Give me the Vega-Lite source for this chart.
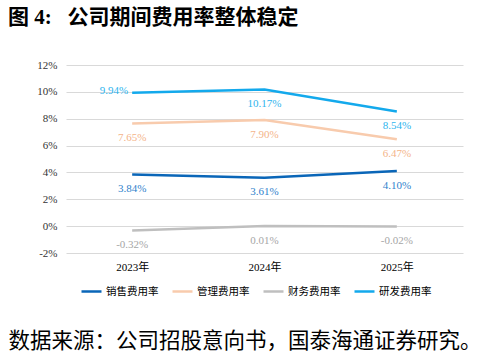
{
  "$schema": "https://vega.github.io/schema/vega-lite/v6.json",
  "width": 397,
  "height": 188,
  "autosize": {"type": "none"},
  "padding": {"left": 66, "top": 65, "right": 30, "bottom": 101},
  "background": "white",
  "view": {"stroke": null},
  "title": {
    "text": "图 4:\u00a0\u00a0\u00a0公司期间费用率整体稳定",
    "anchor": "start",
    "frame": "group",
    "dx": -58,
    "offset": 31,
    "fontSize": 21,
    "font": "Liberation Serif, Noto Sans CJK SC",
    "fontWeight": "bold",
    "color": "#000000"
  },
  "data": {
    "values": [
      {"year": "2023年", "series": "销售费用率", "value": 0.0384},
      {"year": "2024年", "series": "销售费用率", "value": 0.0361},
      {"year": "2025年", "series": "销售费用率", "value": 0.0410},
      {"year": "2023年", "series": "管理费用率", "value": 0.0765},
      {"year": "2024年", "series": "管理费用率", "value": 0.0790},
      {"year": "2025年", "series": "管理费用率", "value": 0.0647},
      {"year": "2023年", "series": "财务费用率", "value": -0.0032},
      {"year": "2024年", "series": "财务费用率", "value": 0.0001},
      {"year": "2025年", "series": "财务费用率", "value": -0.0002},
      {"year": "2023年", "series": "研发费用率", "value": 0.0994},
      {"year": "2024年", "series": "研发费用率", "value": 0.1017},
      {"year": "2025年", "series": "研发费用率", "value": 0.0854}
    ]
  },
  "transform": [
    {"calculate": "replace(format(datum.value, '.2%'), '\u2212', '-')", "as": "label"}
  ],
  "encoding": {
    "x": {
      "field": "year",
      "type": "nominal",
      "sort": null,
      "axis": {
        "labelAngle": 0,
        "domain": false,
        "ticks": false,
        "labelPadding": 8,
        "labelFont": "Liberation Serif, Noto Sans CJK SC",
        "labelFontSize": 11,
        "labelColor": "#000000",
        "title": "数据来源：公司招股意向书，国泰海通证券研究。",
        "titleX": -58,
        "titleY": 88,
        "titleAlign": "left",
        "titleAnchor": "start",
        "titleBaseline": "middle",
        "titleFont": "Noto Sans CJK SC",
        "titleFontSize": 21.5,
        "titleFontWeight": "normal",
        "titleColor": "#000000"
      }
    },
    "y": {
      "field": "value",
      "type": "quantitative",
      "scale": {"domain": [-0.02, 0.12], "nice": false, "zero": false},
      "axis": {
        "values": [-0.02, 0, 0.02, 0.04, 0.06, 0.08, 0.1, 0.12],
        "format": ".0%",
        "labelExpr": "replace(datum.label, '\u2212', '-')",
        "domain": false,
        "ticks": false,
        "gridColor": "#d9d9d9",
        "gridWidth": 1,
        "labelPadding": 9,
        "labelFont": "Liberation Serif",
        "labelFontSize": 11,
        "labelColor": "#333333",
        "title": null
      }
    }
  },
  "layer": [
    {
      "mark": {"type": "line", "strokeWidth": 2.5},
      "encoding": {
        "color": {
          "field": "series",
          "type": "nominal",
          "scale": {
            "domain": ["销售费用率", "管理费用率", "财务费用率", "研发费用率"],
            "range": ["#0a66b8", "#f8cbad", "#bfbfbf", "#13a9ec"]
          },
          "legend": {
            "orient": "none",
            "legendX": 14,
            "legendY": 215,
            "direction": "horizontal",
            "title": null,
            "symbolType": "stroke",
            "symbolSize": 400,
            "symbolStrokeWidth": 2.5,
            "labelFont": "Noto Sans CJK SC",
            "labelFontSize": 10.5,
            "labelColor": "#000000",
            "labelOffset": 3,
            "columnPadding": 8
          }
        }
      }
    },
    {
      "transform": [{"filter": "datum.series == '研发费用率' && datum.year == '2023年'"}],
      "mark": {"type": "text", "align": "right", "baseline": "middle", "dx": -4, "dy": -2, "font": "Liberation Serif", "fontSize": 11},
      "encoding": {
        "text": {"field": "label", "type": "nominal"},
        "color": {
          "field": "series",
          "type": "nominal",
          "scale": {
            "domain": ["销售费用率", "管理费用率", "财务费用率", "研发费用率"],
            "range": ["#2f82cc", "#f4b489", "#a6a6a6", "#2db4ee"]
          },
          "legend": null
        }
      }
    },
    {
      "transform": [{"filter": "!(datum.series == '研发费用率' && datum.year == '2023年')"}],
      "mark": {"type": "text", "align": "center", "baseline": "middle", "dy": 14.5, "font": "Liberation Serif", "fontSize": 11},
      "encoding": {
        "text": {"field": "label", "type": "nominal"},
        "color": {
          "field": "series",
          "type": "nominal",
          "scale": {
            "domain": ["销售费用率", "管理费用率", "财务费用率", "研发费用率"],
            "range": ["#2f82cc", "#f4b489", "#a6a6a6", "#2db4ee"]
          },
          "legend": null
        }
      }
    }
  ],
  "resolve": {"scale": {"color": "independent"}}
}
